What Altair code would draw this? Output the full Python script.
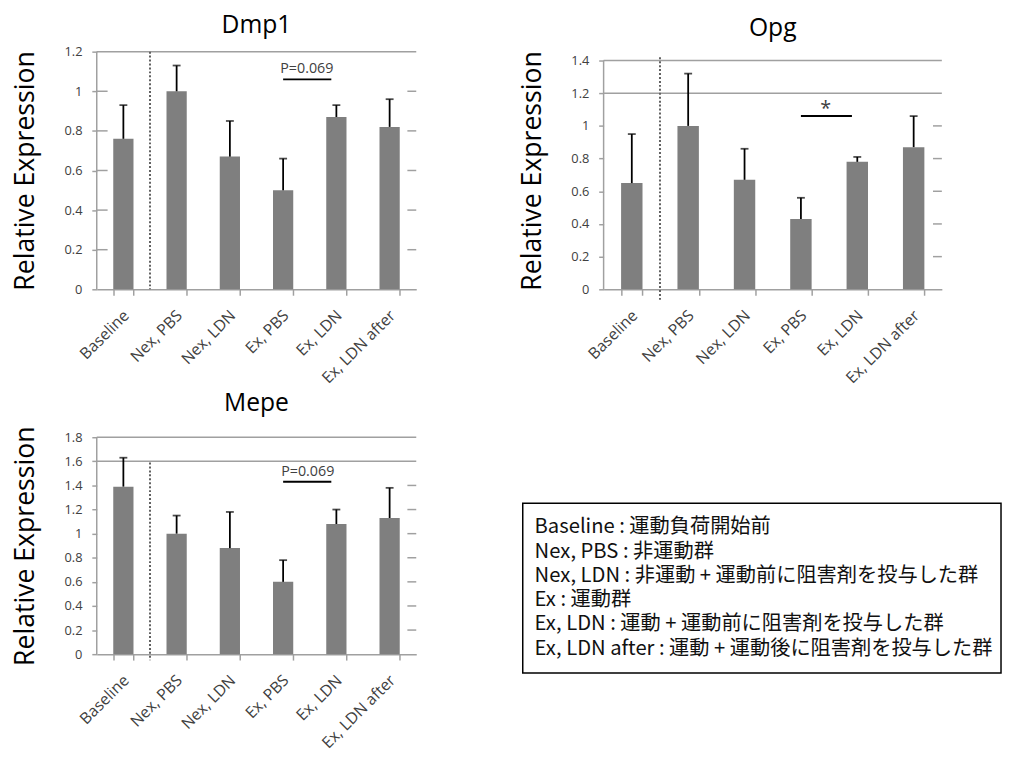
import altair as alt
import pandas as pd

categories = ["Baseline", "Nex, PBS", "Nex, LDN", "Ex, PBS", "Ex, LDN", "Ex, LDN after"]

dmp1_mean = [0.76, 1.00, 0.67, 0.50, 0.87, 0.82]
dmp1_upper = [0.93, 1.13, 0.85, 0.66, 0.93, 0.96]
opg_mean = [0.65, 1.00, 0.67, 0.43, 0.78, 0.87]
opg_upper = [0.95, 1.32, 0.86, 0.56, 0.81, 1.06]
mepe_mean = [1.39, 1.00, 0.88, 0.60, 1.08, 1.13]
mepe_upper = [1.63, 1.15, 1.18, 0.78, 1.20, 1.38]

dmp1_ticks = [0, 0.2, 0.4, 0.6, 0.8, 1.0, 1.2]
opg_ticks = [0, 0.2, 0.4, 0.6, 0.8, 1.0, 1.2, 1.4]
mepe_ticks = [0, 0.2, 0.4, 0.6, 0.8, 1.0, 1.2, 1.4, 1.6, 1.8]

dmp1_full_grid = [1.2]
dmp1_stub_grid = [0.2, 0.4, 0.6, 0.8, 1.0]
opg_full_grid = [1.2, 1.4]
opg_stub_grid = [0.2, 0.4, 0.6, 0.8, 1.0]
mepe_full_grid = [1.6, 1.8]
mepe_stub_grid = [0.2, 0.4, 0.6, 0.8, 1.0, 1.2, 1.4]

# dotted divider extent (data units) between Baseline and the other groups
dmp1_divider = [1.2, 0]
opg_divider = [1.42, -0.07]
mepe_divider = [1.59, -0.05]

sig_pair = ["Ex, PBS", "Ex, LDN"]
dmp1_sig = {"text": "P=0.069", "text_y": 1.112, "line_y": 1.06}
opg_sig = {"text": "*", "text_y": 1.10, "line_y": 1.06}
mepe_sig = {"text": "P=0.069", "text_y": 1.514, "line_y": 1.43}

legend_lines = [
    "Baseline : 運動負荷開始前",
    "Nex, PBS : 非運動群",
    "Nex, LDN : 非運動 + 運動前に阻害剤を投与した群",
    "Ex : 運動群",
    "Ex, LDN : 運動 + 運動前に阻害剤を投与した群",
    "Ex, LDN after : 運動 + 運動後に阻害剤を投与した群",
]

FONT = "Open Sans"
BAR = "#7f7f7f"
AXISC = "#a0a0a0"
LABELC = "#404040"
PAD_IN = 0.62


def panel(title, mean, upper, ticks, view_top, full_grid, stub_grid, sig, divider_ext,
          width, height, left_stub, title_offset, sig_size, sig_dx):
    df = pd.DataFrame({"cat": categories, "mean": mean, "upper": upper})
    xscale = alt.Scale(domain=categories, paddingInner=PAD_IN, paddingOuter=PAD_IN / 2)
    yscale = alt.Scale(domain=[0, view_top], nice=False, zero=True)
    step = width / len(categories)

    xaxis = alt.Axis(title=None, labelAngle=-45, tickBand="extent",
                     labelFontSize=16, labelColor=LABELC, labelFont=FONT,
                     domainColor=AXISC, tickColor=AXISC, tickSize=6,
                     labelPadding=12, labelOffset=-3, grid=False,
                     domainWidth=1.5, tickWidth=1.5)
    yaxis = alt.Axis(values=ticks, format="~g", grid=False, domain=False,
                     title="Relative Expression", titleFontSize=27,
                     titleFont=FONT, titleFontWeight="normal", titleColor="#000000",
                     titlePadding=25, labelFontSize=13, labelColor=LABELC,
                     labelFont=FONT, labelPadding=10,
                     tickColor=AXISC, tickSize=5, tickWidth=1.5)

    def X(field, **kw):
        return alt.X(field, scale=xscale, axis=xaxis, title=None, **kw)

    def Y(field):
        return alt.Y(field, scale=yscale, axis=yaxis, title="Relative Expression")

    bars = alt.Chart(df).mark_bar(color=BAR).encode(x=X("cat:N"), y=Y("mean:Q"))

    axis_df = pd.DataFrame({"lo": [ticks[0]], "hi": [ticks[-1]]})
    yline = alt.Chart(axis_df).mark_rule(color=AXISC, strokeWidth=1.5).encode(
        x=alt.value(0), y=Y("hi:Q"), y2="lo:Q")

    full = alt.Chart(pd.DataFrame({"g": full_grid})).mark_rule(
        color=AXISC, strokeWidth=1.5).encode(y=Y("g:Q"))

    stub_df = pd.DataFrame({"g": stub_grid})
    right_stub = alt.Chart(stub_df).mark_rule(color=AXISC, strokeWidth=1.5).encode(
        y=Y("g:Q"), x=alt.value(width - 9), x2=alt.value(width))
    layers = [bars, yline, full, right_stub]
    if left_stub > 0:
        left = alt.Chart(stub_df).mark_rule(color=AXISC, strokeWidth=1.5).encode(
            y=Y("g:Q"), x=alt.value(0), x2=alt.value(left_stub))
        layers.append(left)

    err = alt.Chart(df).mark_rule(color="#000000", strokeWidth=1.8).encode(
        x=X("cat:N"), y=Y("mean:Q"), y2="upper:Q")
    cap = alt.Chart(df).mark_tick(color="#000000", size=8, thickness=1.8,
                                  orient="horizontal").encode(
        x=X("cat:N"), y=Y("upper:Q"))

    div_df = pd.DataFrame({"cat": [categories[0]], "top": [divider_ext[0]],
                           "bot": [divider_ext[1]]})
    divider = alt.Chart(div_df).mark_rule(color="#606060", strokeWidth=2,
                                          strokeDash=[2, 2],
                                          xOffset=step * PAD_IN / 2).encode(
        x=X("cat:N", bandPosition=1), y=Y("top:Q"), y2="bot:Q")

    sig_df = pd.DataFrame({"a": [sig_pair[0]], "b": [sig_pair[1]],
                           "ly": [sig["line_y"]], "ty": [sig["text_y"]],
                           "t": [sig["text"]]})
    sig_line = alt.Chart(sig_df).mark_rule(color="#000000", strokeWidth=2).encode(
        x=X("a:N", bandPosition=0.5),
        x2=alt.X2("b:N", bandPosition=0.25),
        y=Y("ly:Q"))
    sig_text = alt.Chart(sig_df).mark_text(
        font=FONT, fontSize=sig_size, color="#404040", dx=sig_dx,
        baseline="middle").encode(
        x=X("a:N"), y=Y("ty:Q"), text="t:N")

    layers += [err, cap, divider, sig_line, sig_text]
    return alt.layer(*layers).properties(
        width=width, height=height,
        title=alt.TitleParams(title, fontSize=25, font=FONT, fontWeight="normal",
                              color="#000000", offset=title_offset, anchor="middle"))


dmp1 = panel("Dmp1", dmp1_mean, dmp1_upper, dmp1_ticks, 1.2, dmp1_full_grid,
             dmp1_stub_grid, dmp1_sig, dmp1_divider, 324, 241, 11, 8, 14.5, 24)
opg = panel("Opg", opg_mean, opg_upper, opg_ticks, 1.4543, opg_full_grid,
            opg_stub_grid, opg_sig, opg_divider, 343, 241, 0, 10, 20, 25)
mepe = panel("Mepe", mepe_mean, mepe_upper, mepe_ticks, 1.8, mepe_full_grid,
             mepe_stub_grid, mepe_sig, mepe_divider, 324, 220, 0, 10, 14.5, 25)

# legend box: plot origin shares the Opg panel's left edge, box reaches left
LEG_W, LEG_H, LEG_LEFT = 403, 172, -82
box = alt.Chart(pd.DataFrame({"b": [0]})).mark_rect(
    fill="white", fillOpacity=0, stroke="#000000", strokeWidth=1.5).encode(
    x=alt.value(LEG_LEFT), x2=alt.value(LEG_W), y=alt.value(0), y2=alt.value(LEG_H))
legend_text = alt.Chart(pd.DataFrame({"t": legend_lines})).mark_text(
    align="left", baseline="middle", fontSize=20.5, font="Noto Sans CJK JP",
    color="#111111").encode(
    y=alt.Y("t:N", sort=legend_lines, scale=alt.Scale(type="point", padding=1),
            axis=None),
    x=alt.value(LEG_LEFT + 12),
    text="t:N",
)
legend = alt.layer(box, legend_text).properties(width=LEG_W, height=LEG_H)

chart = alt.hconcat(
    alt.vconcat(dmp1, mepe, spacing=4),
    alt.vconcat(opg, legend, spacing=117),
    spacing=102,
).properties(padding={"left": 3, "top": 0, "right": 0, "bottom": 0}).configure_view(stroke=None)

chart.save("out.html", embed_options={"renderer": "svg", "actions": False})
